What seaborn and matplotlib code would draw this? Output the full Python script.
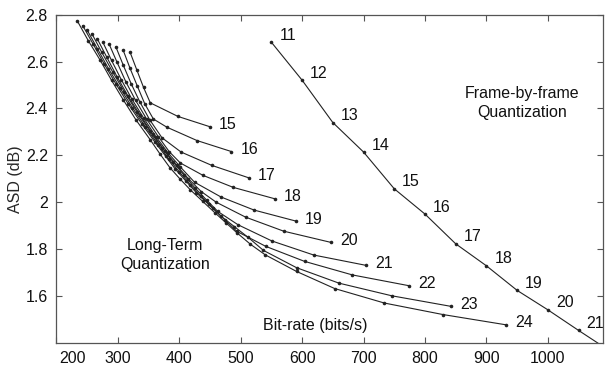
import matplotlib
matplotlib.use("Agg")
import matplotlib.pyplot as plt
import matplotlib.transforms as mtransforms
import numpy as np
import pandas as pd
import seaborn as sns

# frame-by-frame quantization (bits per frame -> bit-rate, ASD)
# the last point lies beyond the right edge, only the line shows
fbf_bits = [11, 12, 13, 14, 15, 16, 17, 18, 19, 20, 21]
fbf_rate = [550, 600, 650, 700, 750, 800, 850, 900, 950, 1000, 1050, 1100]
fbf_asd = [2.683, 2.521, 2.340, 2.214, 2.057, 1.949, 1.822, 1.728, 1.623, 1.540, 1.452, 1.366]

# long-term quantization, one curve per number of bits (label at the end point)
lt_rate = {
    15: [320, 331, 342, 353, 398, 450],
    16: [309, 320, 332, 344, 358, 380, 429, 485],
    17: [297, 309, 322, 336, 352, 372, 403, 453, 513],
    18: [286, 299, 313, 329, 347, 366, 384, 402, 439, 488, 556],
    19: [276, 290, 306, 323, 342, 362, 382, 402, 425, 468, 522, 590],
    20: [267, 282, 299, 317, 337, 357, 377, 396, 415, 436, 460, 508, 570, 647],
    21: [258, 274, 292, 311, 331, 352, 372, 390, 408, 426, 445, 463, 496, 551, 619, 704],
    22: [250, 267, 285, 304, 324, 345, 366, 383, 400, 418, 436, 455, 474, 494, 541, 604, 682, 774],
    23: [243, 260, 278, 297, 317, 339, 361, 378, 394, 411, 428, 448, 468, 490, 512, 537,
         591, 660, 746, 842],
    24: [234, 252, 271, 290, 309, 330, 353, 369, 385, 401, 418, 438, 458, 476, 494, 516,
         540, 591, 653, 734, 829, 932],
}
lt_asd = {
    15: [2.641, 2.565, 2.490, 2.424, 2.366, 2.322],
    16: [2.648, 2.572, 2.495, 2.420, 2.355, 2.320, 2.263, 2.216],
    17: [2.663, 2.585, 2.505, 2.428, 2.352, 2.275, 2.214, 2.157, 2.104],
    18: [2.675, 2.597, 2.515, 2.435, 2.355, 2.280, 2.215, 2.167, 2.114, 2.063, 2.014],
    19: [2.682, 2.605, 2.522, 2.440, 2.360, 2.280, 2.210, 2.150, 2.085, 2.022, 1.966, 1.919],
    20: [2.696, 2.620, 2.535, 2.452, 2.370, 2.290, 2.218, 2.157, 2.100, 2.045, 2.000, 1.936,
         1.876, 1.828],
    21: [2.719, 2.640, 2.555, 2.470, 2.387, 2.305, 2.232, 2.172, 2.115, 2.060, 2.008, 1.960,
         1.903, 1.834, 1.774, 1.730],
    22: [2.736, 2.655, 2.570, 2.487, 2.403, 2.322, 2.245, 2.185, 2.130, 2.075, 2.025, 1.975,
         1.925, 1.875, 1.811, 1.747, 1.689, 1.643],
    23: [2.754, 2.675, 2.590, 2.505, 2.420, 2.335, 2.255, 2.196, 2.140, 2.090, 2.040, 1.990,
         1.940, 1.895, 1.850, 1.794, 1.720, 1.654, 1.600, 1.555],
    24: [2.775, 2.690, 2.608, 2.520, 2.437, 2.350, 2.266, 2.205, 2.147, 2.100, 2.053, 2.004,
         1.955, 1.912, 1.869, 1.820, 1.775, 1.704, 1.631, 1.569, 1.520, 1.476],
}

xticks = [200, 300, 400, 500, 600, 700, 800, 900, 1000]
yticks = [1.6, 1.8, 2.0, 2.2, 2.4, 2.6, 2.8]

rows = []
for b in lt_rate:
    for r, a in zip(lt_rate[b], lt_asd[b]):
        rows.append({"curve": "lt%d" % b, "rate": r, "asd": a})
for r, a in zip(fbf_rate, fbf_asd):
    rows.append({"curve": "fbf", "rate": r, "asd": a})
df = pd.DataFrame(rows)

sns.set_style("ticks")
plt.rcParams["font.family"] = ["Liberation Sans", "DejaVu Sans"]

fig = plt.figure(figsize=(6.05, 3.70), dpi=100)
ax = fig.add_axes([0.093, 0.074, 0.904, 0.886])

line_col = "#222222"
sns.lineplot(data=df, x="rate", y="asd", units="curve", estimator=None, sort=False,
             color=line_col, lw=0.8, marker="o", markersize=2.6, markeredgewidth=0,
             ax=ax, legend=False)

# labels at the ends of long-term curves
off_lt = mtransforms.offset_copy(ax.transData, fig=fig, x=9, y=2, units="dots")
for b in lt_rate:
    ax.text(lt_rate[b][-1], lt_asd[b][-1], str(b), transform=off_lt,
            fontsize=11.5, va="center", ha="left", color="#111111")

# labels along frame-by-frame curve
off_f = mtransforms.offset_copy(ax.transData, fig=fig, x=8, y=7, units="dots")
for b, r, a in zip(fbf_bits, fbf_rate, fbf_asd):
    ax.text(r, a, str(b), transform=off_f, fontsize=11.5, va="center", ha="left",
            color="#111111")

ax.text(958, 2.424, "Frame-by-frame\nQuantization", fontsize=11.5, ha="center",
        va="center", linespacing=1.35, color="#111111")
ax.text(377, 1.775, "Long-Term\nQuantization", fontsize=11.5, ha="center",
        va="center", linespacing=1.35, color="#111111")
ax.text(621, 1.472, "Bit-rate (bits/s)", fontsize=11.5, ha="center", va="center",
        color="#111111")

ax.set_xlim(200, 1090)
ax.set_ylim(1.4, 2.8)
ax.set_xticks(xticks)
ax.set_yticks(yticks)
ax.set_yticklabels(["%g" % t for t in yticks])
ax.set_xlabel("")
ax.set_ylabel("ASD (dB)", fontsize=11.5, labelpad=2)
ax.tick_params(direction="in", length=4, width=0.8, top=True, right=True,
               labelsize=11.5, colors="#555555", labelcolor="#111111", pad=6)
for s in ax.spines.values():
    s.set_color("#555555")
    s.set_linewidth(0.9)

# first x label sits a little to the right of the spine
lab0 = ax.get_xticklabels()[0]
lab0.set_transform(lab0.get_transform() + mtransforms.ScaledTranslation(16 / 100, 0, fig.dpi_scale_trans))

fig.savefig("out.png", dpi=100, facecolor="white")
